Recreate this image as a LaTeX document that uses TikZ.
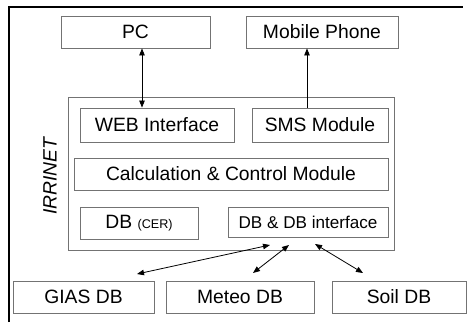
\documentclass[tikz,border=0pt]{standalone}
\usepackage{fontspec}
\setmainfont{Liberation Sans}
\usetikzlibrary{arrows.meta}
\begin{document}
\begin{tikzpicture}[x=10pt, y=10pt,
    box/.style={draw=black!55, line width=0.9pt, inner sep=0pt, minimum height=32pt,
      font=\fontsize{19.3}{23}\selectfont},
    link/.style={black, line width=0.8pt},
    tip/.tip={Triangle[length=7pt, width=5.5pt]}]
  \useasboundingbox (0,0) rectangle (46.9,32.2);
  % frame
  \draw[line width=2.5pt] (0.9,0) -- (0.9,31.5) -- (46.3,31.5);
  % outside
  \node[box, minimum width=149pt] (pc) at (13.55,29.0) {PC};
  \node[box, minimum width=152pt] (mobile) at (32.2,29.0) {Mobile Phone};
  % IRRINET
  \node[box, minimum width=326pt, minimum height=153pt] (irrinet) at (23.1,14.85) {};
  \node[rotate=90, font=\fontsize{19.3}{23}\selectfont\itshape] (irrlabel) at (5.0,14.6) {IRRINET};
  \node[box, minimum width=154pt, minimum height=34pt] (web) at (15.7,19.7) {WEB Interface};
  \node[box, minimum width=136pt, minimum height=34pt] (sms) at (32.0,19.7) {SMS Module};
  \node[box, minimum width=314pt] (calc) at (23.1,14.8) {Calculation \& Control Module};
  \node[box, minimum width=118pt] (dbcer) at (13.9,9.9) {DB {\fontsize{12.6}{15}\selectfont(CER)}};
  \node[box, minimum width=160pt, minimum height=30pt, font=\fontsize{17.1}{20}\selectfont] (dbi) at (30.8,10.0) {DB \& DB interface};
  % databases
  \node[box, minimum width=141pt] (gias) at (8.35,2.5) {GIAS DB};
  \node[box, minimum width=148pt] (meteo) at (24.0,2.5) {Meteo DB};
  \node[box, minimum width=134pt] (soil) at (39.9,2.5) {Soil DB};
  % connectors
  \coordinate (pcweb) at (14.2,0);
  \coordinate (smsmob) at (30.7,0);
  \draw[link, tip-tip] (pc.south -| pcweb) -- (web.north -| pcweb);
  \draw[link, -tip] (sms.north -| smsmob) -- (mobile.south -| smsmob);
  \coordinate (dbi-gias) at (27.0,7.7);
  \coordinate (gias-in) at (13.7,4.8);
  \coordinate (dbi-meteo) at (28.9,7.7);
  \coordinate (meteo-in) at (25.3,4.9);
  \coordinate (dbi-soil) at (31.5,7.8);
  \coordinate (soil-in) at (36.3,4.9);
  \draw[link, tip-tip] (dbi-gias) -- (gias-in);
  \draw[link, tip-tip] (dbi-meteo) -- (meteo-in);
  \draw[link, tip-tip] (dbi-soil) -- (soil-in);
\end{tikzpicture}
\end{document}
